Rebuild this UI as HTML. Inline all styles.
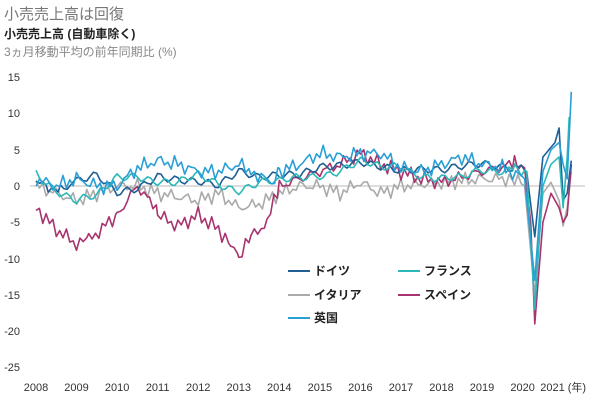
<!DOCTYPE html><html><head><meta charset="utf-8"><style>
body{margin:0;background:#fff;width:600px;height:401px;overflow:hidden;font-family:"Liberation Sans","Noto Sans CJK JP",sans-serif}
</style></head><body>
<svg id="s" width="600" height="401" xmlns="http://www.w3.org/2000/svg" font-family="Liberation Sans, Noto Sans CJK JP, sans-serif">
<text x="4" y="19" font-size="15" fill="#777">小売売上高は回復</text>
<text x="4" y="38" font-size="12" font-weight="bold" fill="#222">小売売上高 (自動車除く)</text>
<text x="4" y="56" font-size="12" fill="#888">3ヵ月移動平均の前年同期比 (%)</text>
<g font-size="11" fill="#333" text-anchor="end">
<text x="20" y="81">15</text><text x="20" y="117">10</text><text x="20" y="154">5</text><text x="20" y="190">0</text>
<text x="20" y="226">-5</text><text x="20" y="263">-10</text><text x="20" y="299">-15</text><text x="20" y="335">-20</text><text x="20" y="371">-25</text>
</g>
<line x1="30" y1="186" x2="585" y2="186" stroke="#bbb" stroke-width="1"/>
<g font-size="11" fill="#333" text-anchor="middle" id="xl"></g>
<g id="lines" fill="none" stroke-width="1.6" stroke-linejoin="round"></g>
<g font-size="12" font-weight="bold" fill="#222">
<line x1="288" y1="271" x2="310" y2="271" stroke="#1f5f94" stroke-width="2"/><text x="314" y="275">ドイツ</text>
<line x1="398" y1="271" x2="420" y2="271" stroke="#2cb8b8" stroke-width="2"/><text x="424" y="275">フランス</text>
<line x1="288" y1="295" x2="310" y2="295" stroke="#aaa" stroke-width="2"/><text x="314" y="299">イタリア</text>
<line x1="398" y1="295" x2="420" y2="295" stroke="#a8336e" stroke-width="2"/><text x="424" y="299">スペイン</text>
<line x1="288" y1="318" x2="310" y2="318" stroke="#2a9fd6" stroke-width="2"/><text x="314" y="322">英国</text>
</g>
</svg>
<script>
var X=function(y){return 36+(y-2008)*40.55},Y=function(v){return 186-v*7.25};
var xl=document.getElementById('xl'),h='';
for(var y=2008;y<=2021;y++){h+='<text x="'+X(y)+'" y="391">'+y+(y==2021?' (年)':'')+'</text>';}
xl.innerHTML=h;
var S=[
["#aaaaaa",[2008,0,2009,-2,2009.5,-1,2010,0,2010.5,0,2011,-1,2012,-2,2012.5,-1,2013,-3,2013.5,-2.5,2014,-1,2014.5,0,2015,0,2015.5,-1,2016,0.5,2016.5,-1,2017,0,2018,0.5,2019,1,2019.8,1,2020.05,0,2020.3,-15,2020.5,-1,2020.7,0.5,2020.9,-2,2021,-5.5,2021.1,-3,2021.2,2],3],
["#a8336e",[2008,-3,2008.5,-6,2009,-8,2009.3,-7.5,2010,-4,2010.5,0,2010.8,-2,2011,-4,2011.5,-5.5,2012,-4,2012.5,-6,2012.8,-8,2013,-10,2013.3,-7,2013.7,-5,2014,0,2014.5,1,2015,2,2015.5,3,2016,4.5,2016.5,3,2017,2,2017.5,1,2018,0.5,2019,2,2019.8,3,2020.05,2.5,2020.2,-5,2020.3,-19,2020.5,-5,2020.7,-1,2020.9,-3,2021,-5,2021.1,-4,2021.2,3],1],
["#1f5f94",[2008,1,2008.3,-1,2008.6,0,2009,0,2009.5,1,2010,-1,2010.5,0,2011,2,2012,1,2012.5,0,2013,1.5,2013.5,0.5,2014,1,2014.5,1.5,2015,3,2016,4,2016.5,3,2017,2,2018,1.5,2019,3,2019.8,3,2020.1,2,2020.3,-7,2020.5,4,2020.8,6,2020.9,8,2021,-2,2021.1,-1,2021.2,3.5],2],
["#2cb8b8",[2008,2,2009,-2,2009.5,-2,2010,1,2010.5,2,2011,1,2011.5,0,2012,1,2013,0,2013.5,0.5,2014,0,2014.5,1,2015,2,2016,3,2016.5,2,2017,3,2017.5,2,2018,1,2018.5,0.5,2019,2,2019.8,3,2020.1,2,2020.3,-17,2020.5,0,2020.7,3,2020.9,4,2021,-3,2021.1,4,2021.15,9.5],4],
["#2a9fd6",[2008,1,2008.5,0,2009,1,2009.5,0,2010,0,2010.5,2.5,2011,3.5,2011.5,3,2012,2,2012.5,2,2013,3,2013.3,2,2013.8,0.5,2014,2,2014.5,3,2015,4.5,2015.5,4,2016,4.5,2016.5,4.5,2017,2.5,2017.5,2,2018,3,2018.5,4,2019,3,2019.5,2.5,2020.05,1,2020.3,-13,2020.5,2,2020.7,5,2020.9,6,2021,3,2021.1,1,2021.2,13],5]];
var g='';
S.forEach(function(s){var k=s[1],pts=[];
for(var i=0;i<k.length-2;i+=2){var a=k[i],b=k[i+2],va=k[i+1],vb=k[i+3];
for(var t=a;t<b-1e-6;t+=1/12){var v=va+(vb-va)*(t-a)/(b-a);var n=(t<2020)?0.7*Math.sin(t*37*s[2]+s[2])+0.5*Math.sin(t*91+2*s[2]):0;pts.push(X(t).toFixed(1)+','+Y(v+n).toFixed(1));}}
pts.push(X(k[k.length-2]).toFixed(1)+','+Y(k[k.length-1]).toFixed(1));
g+='<polyline stroke="'+s[0]+'" points="'+pts.join(' ')+'"/>';});
document.getElementById('lines').innerHTML=g;
</script>
</body></html>
